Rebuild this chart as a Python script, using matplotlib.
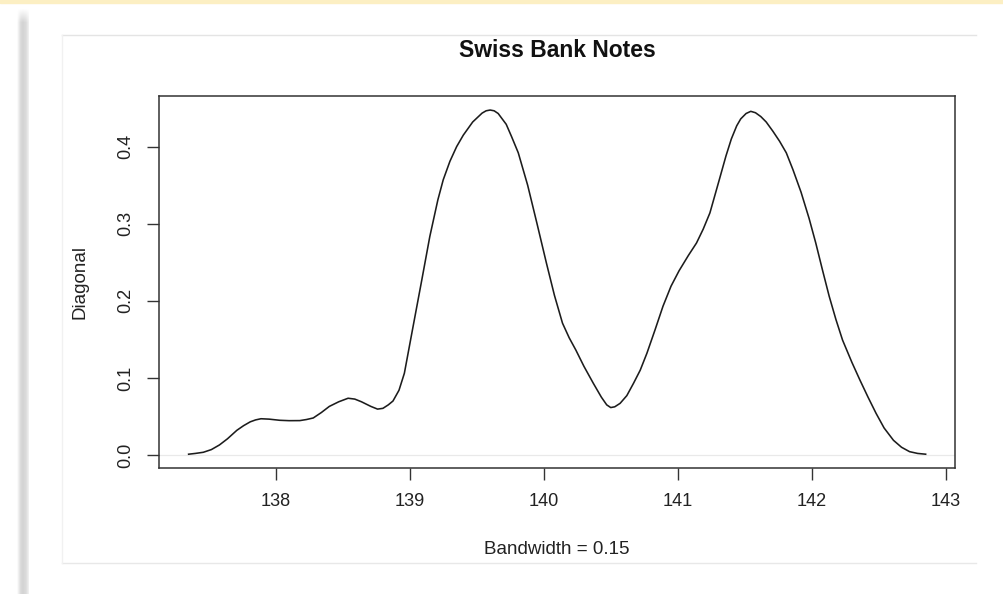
import matplotlib
matplotlib.use("Agg")
import matplotlib.pyplot as plt
import numpy as np
from matplotlib.patches import Rectangle
from matplotlib.lines import Line2D

plt.rcParams['font.family'] = ['Liberation Sans', 'DejaVu Sans']

# Kernel density estimate of the diagonal measurement (bandwidth 0.15)
diagonal = [137.35, 137.40, 137.46, 137.52, 137.58, 137.64, 137.71, 137.76, 137.81,
            137.85, 137.89, 137.95, 138.03, 138.10, 138.18, 138.23, 138.28, 138.34,
            138.40, 138.47, 138.54, 138.59, 138.64, 138.71, 138.76, 138.80, 138.84,
            138.875, 138.92, 138.96, 139.02, 139.09, 139.15, 139.21, 139.25, 139.30,
            139.35, 139.40, 139.47, 139.54, 139.57, 139.60, 139.63, 139.66, 139.72,
            139.76, 139.81, 139.88, 139.95, 140.02, 140.08, 140.14, 140.19, 140.24,
            140.30, 140.37, 140.43, 140.47, 140.50, 140.53, 140.57, 140.62, 140.67,
            140.72, 140.77, 140.83, 140.89, 140.95, 141.01, 141.08, 141.14, 141.19,
            141.24, 141.31, 141.36, 141.40, 141.44, 141.47, 141.51, 141.545, 141.58,
            141.62, 141.66, 141.71, 141.76, 141.81, 141.86, 141.92, 141.98, 142.03,
            142.08, 142.13, 142.18, 142.23, 142.30, 142.36, 142.42, 142.48, 142.54,
            142.61, 142.67, 142.73, 142.79, 142.85]
density = [0.001, 0.002, 0.0035, 0.007, 0.013, 0.021, 0.032, 0.038, 0.043,
           0.0455, 0.047, 0.0465, 0.045, 0.0445, 0.0446, 0.046, 0.048, 0.055,
           0.063, 0.069, 0.0736, 0.0725, 0.069, 0.063, 0.0595, 0.0605, 0.065,
           0.070, 0.084, 0.106, 0.162, 0.227, 0.2835, 0.331, 0.357, 0.381,
           0.400, 0.415, 0.432, 0.4435, 0.4465, 0.4475, 0.4465, 0.443, 0.429,
           0.413, 0.392, 0.350, 0.300, 0.249, 0.207, 0.171, 0.152, 0.136,
           0.115, 0.093, 0.075, 0.065, 0.0615, 0.0625, 0.067, 0.077, 0.093,
           0.110, 0.132, 0.162, 0.193, 0.219, 0.239, 0.259, 0.275, 0.293,
           0.314, 0.357, 0.388, 0.410, 0.427, 0.436, 0.443, 0.4458, 0.444,
           0.439, 0.432, 0.420, 0.407, 0.392, 0.370, 0.341, 0.307, 0.275,
           0.240, 0.206, 0.176, 0.149, 0.120, 0.097, 0.075, 0.054, 0.035,
           0.019, 0.010, 0.0043, 0.002, 0.001]

x_ticks = [138, 139, 140, 141, 142, 143]
x_tick_labels = ["138", "139", "140", "141", "142", "143"]
y_ticks = [0.0, 0.1, 0.2, 0.3, 0.4]
y_tick_labels = ["0.0", "0.1", "0.2", "0.3", "0.4"]

title = "Swiss Bank Notes"
x_label = "Bandwidth = 0.15"
y_label = "Diagonal"

W, H = 1004, 594
fig = plt.figure(figsize=(W / 100, H / 100), dpi=100)
fig.patch.set_facecolor("white")


def fx(px):
    return px / W


def fy(py):
    return 1 - py / H


# page decoration: thin top strip, left drop shadow, light panel rules
fig.patches.append(Rectangle((0, fy(2.5)), 1, 2.5 / H, transform=fig.transFigure,
                             color="#fcefc3", zorder=0))

shade_cols = np.array([0.0, 0.02, 0.06, 0.10, 0.14, 0.16, 0.17, 0.17, 0.16,
                       0.15, 0.13, 0.10, 0.07])
rows = 586
fade = np.clip(np.arange(rows) / 14.0, 0, 1)
alpha = fade[:, None] * shade_cols[None, :]
img = np.zeros((rows, len(shade_cols), 4))
img[..., 3] = alpha
sax = fig.add_axes([fx(16), 0, fx(13), rows / H])
sax.imshow(img, aspect="auto", interpolation="bilinear")
sax.set_axis_off()

for xs, ys, c in [([62, 976], [35, 35], "#e4e4e4"),
                  ([62, 976], [563, 563], "#e8e8e8"),
                  ([62, 62], [35, 563], "#f1f1f1")]:
    fig.add_artist(Line2D([fx(v) for v in xs], [fy(v) for v in ys],
                          transform=fig.transFigure, color=c, lw=1.0))

# main density plot
ax = fig.add_axes([fx(159), fy(468), fx(955) - fx(159), fy(96) - fy(468)])
ax.axhline(0, color="#e9e9e9", lw=0.9, zorder=1)
ax.plot(diagonal, density, color="#1c1c1c", lw=1.15, zorder=2,
        solid_joinstyle="round")

ax.set_xlim(137.129, 143.069)
ax.set_ylim(-0.0169, 0.4657)
ax.set_xticks(x_ticks)
ax.set_xticklabels(x_tick_labels)
ax.set_yticks(y_ticks)
ax.set_yticklabels(y_tick_labels)
ax.tick_params(length=8.6, width=1.0, color="#333333", labelsize=13.1,
               labelcolor="#222222", pad=9.5)
for lbl in ax.get_yticklabels():
    lbl.set_rotation(90)
    lbl.set_va("center")
for sp in ax.spines.values():
    sp.set_color("#333333")
    sp.set_linewidth(1.1)

fig.text(fx(557), fy(50.7), title, ha="center", va="center",
         fontsize=16.5, fontweight="bold", color="#111111")
fig.text(fx(556.7), fy(550), x_label, ha="center", va="center",
         fontsize=13.5, color="#222222")
fig.text(fx(80), fy(282), y_label, ha="center", va="center", rotation=90,
         fontsize=13.5, color="#222222")

fig.savefig("out.png", dpi=100)
